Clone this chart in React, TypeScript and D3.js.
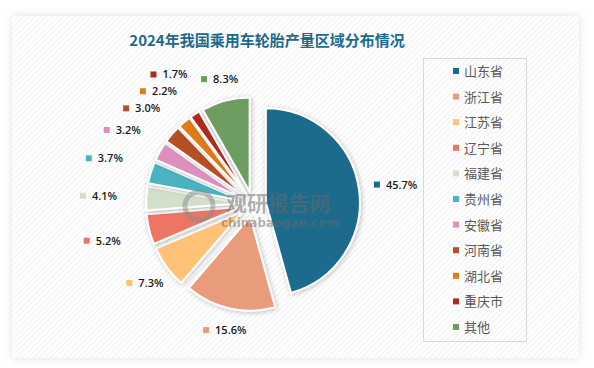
import React, { useEffect, useRef } from "react";
import * as d3 from "d3";

const regions = ["山东省", "浙江省", "江苏省", "辽宁省", "福建省", "贵州省", "安徽省", "河南省", "湖北省", "重庆市", "其他"];
const shares = [45.7, 15.6, 7.3, 5.2, 4.1, 3.7, 3.2, 3.0, 2.2, 1.7, 8.3];
const colors = ["#1b6a8c", "#e89c7c", "#ffc277", "#ec7463", "#d2e0cb", "#4ab4c0", "#de8fbb", "#b44f27", "#e07c12", "#ad2b1b", "#6e9d62"];
const title = "2024年我国乘用车轮胎产量区域分布情况";

function App() {
  const ref = useRef<SVGSVGElement>(null);

  useEffect(() => {
    const W = 594, H = 368;
    const svg = d3.select(ref.current);
    svg.selectAll("*").remove();

    const defs = svg.append("defs");
    const pat = defs.append("pattern")
      .attr("id", "hatch")
      .attr("width", 4).attr("height", 4)
      .attr("patternUnits", "userSpaceOnUse")
      .attr("patternTransform", "rotate(45)");
    pat.append("rect").attr("width", 4).attr("height", 4).attr("fill", "#ffffff");
    pat.append("line").attr("x1", 0).attr("y1", 0).attr("x2", 0).attr("y2", 4)
      .attr("stroke", "#ededed").attr("stroke-width", 1.5);

    const panelShadow = defs.append("filter").attr("id", "pshadow")
      .attr("x", "-5%").attr("y", "-5%").attr("width", "110%").attr("height", "110%");
    panelShadow.append("feDropShadow").attr("dx", 0).attr("dy", 0)
      .attr("stdDeviation", 4).attr("flood-color", "#000").attr("flood-opacity", 0.12);

    const sliceShadow = defs.append("filter").attr("id", "sshadow")
      .attr("x", "-20%").attr("y", "-20%").attr("width", "140%").attr("height", "140%");
    sliceShadow.append("feDropShadow").attr("dx", 1).attr("dy", 1)
      .attr("stdDeviation", 2.5).attr("flood-color", "#000").attr("flood-opacity", 0.25);

    svg.append("rect").attr("width", W).attr("height", H).attr("fill", "#ffffff");
    svg.append("rect")
      .attr("x", 12).attr("y", 16).attr("width", 567).attr("height", 342)
      .attr("fill", "url(#hatch)")
      .attr("filter", "url(#pshadow)");

    // title
    svg.append("text")
      .attr("x", 267).attr("y", 46)
      .attr("text-anchor", "middle")
      .attr("font-family", "'Noto Sans CJK SC', sans-serif")
      .attr("font-weight", "bold")
      .attr("font-size", 15)
      .attr("fill", "#1d6a8a")
      .text(title);

    // pie
    const cx = 253, cy = 204, r = 94, explode = 13;
    const data = regions.map((name, i) => ({ name, value: shares[i], color: colors[i] }));
    const pie = d3.pie<any>().sort(null).value(d => d.value);
    const arcs = pie(data);
    const arc = d3.arc<any>().innerRadius(0).outerRadius(r);

    const g = svg.append("g").attr("transform", `translate(${cx},${cy})`);
    g.selectAll("path.slice")
      .data(arcs)
      .enter()
      .append("path")
      .attr("class", "slice")
      .attr("d", arc)
      .attr("transform", d => {
        const mid = (d.startAngle + d.endAngle) / 2;
        return `translate(${explode * Math.sin(mid)},${-explode * Math.cos(mid)})`;
      })
      .attr("fill", d => d.data.color)
      .attr("stroke", "#ffffff")
      .attr("stroke-width", 2)
      .attr("stroke-linejoin", "round")
      .attr("filter", "url(#sshadow)");

    // watermark
    const wm = svg.append("g").attr("opacity", 0.5);
    wm.append("circle").attr("cx", 199).attr("cy", 206).attr("r", 14)
      .attr("fill", "none").attr("stroke", "#8a8a8a").attr("stroke-width", 5);
    wm.append("text").attr("x", 226).attr("y", 211)
      .attr("font-family", "'Noto Sans CJK SC', sans-serif").attr("font-weight", "bold")
      .attr("font-size", 21).attr("fill", "#6b6b6b").text("观研报告网");
    wm.append("text").attr("x", 221).attr("y", 227)
      .attr("font-family", "'DejaVu Sans', sans-serif").attr("font-weight", "bold")
      .attr("font-size", 12).attr("fill", "#6b6b6b").text("chinabaogao.com");

    // data labels: outside end, pushed outward while they collide
    const boxes: { x: number; y: number; w: number; h: number }[] = [];
    const placed = arcs.map(d => {
      const mid = (d.startAngle + d.endAngle) / 2;
      const s = Math.sin(mid), c = -Math.cos(mid);
      const txt = d.data.value.toFixed(1) + "%";
      const w = 12 + txt.length * 6.3;
      const hw = w / 2, hh = 7;
      const edge = Math.min(hw / Math.max(Math.abs(s), 1e-6), hh / Math.max(Math.abs(c), 1e-6));
      let R = r + explode + 15 + edge + (d.data.value < 6 ? 14 : 0);
      const hit = (bx: number, by: number) =>
        boxes.some(b => Math.abs(b.x - bx) < (b.w + w) / 2 + 2 && Math.abs(b.y - by) < (b.h + 2 * hh) / 2 + 2);
      let guard = 0;
      while (hit(R * s, R * c) && guard < 40) { R += 2; guard++; }
      boxes.push({ x: R * s, y: R * c, w, h: 2 * hh });
      return { d, txt, x: R * s - hw, y: R * c };
    });

    const labels = g.selectAll("g.lbl")
      .data(placed)
      .enter()
      .append("g")
      .attr("class", "lbl")
      .attr("transform", p => `translate(${p.x},${p.y})`);
    labels.append("rect")
      .attr("x", 0).attr("y", -3).attr("width", 6).attr("height", 6)
      .attr("fill", p => p.d.data.color);
    labels.append("text")
      .attr("x", 12).attr("y", 4)
      .attr("font-family", "'Open Sans', 'DejaVu Sans', sans-serif")
      .attr("font-weight", 600)
      .attr("font-size", 11)
      .attr("fill", "#1a1a1a")
      .text(p => p.txt);

    // legend
    svg.append("rect")
      .attr("x", 423.5).attr("y", 58.5).attr("width", 103).attr("height", 283)
      .attr("fill", "none").attr("stroke", "#d9d9d9");
    const ly = d3.scalePoint<string>().domain(regions).range([71, 327]);
    const items = svg.selectAll("g.leg")
      .data(data)
      .enter()
      .append("g")
      .attr("class", "leg")
      .attr("transform", d => `translate(453,${ly(d.name)})`);
    items.append("rect").attr("x", 0).attr("y", -3).attr("width", 6).attr("height", 6)
      .attr("fill", d => d.color);
    items.append("text").attr("x", 11).attr("y", 5)
      .attr("font-family", "'Noto Sans CJK SC', sans-serif")
      .attr("font-size", 13)
      .attr("fill", "#595959")
      .text(d => d.name);
  }, []);

  return (
    <div style={{ position: "absolute", left: 0, top: 0 }}>
      <svg ref={ref} width={594} height={368} style={{ display: "block" }} />
    </div>
  );
}

export default App;
